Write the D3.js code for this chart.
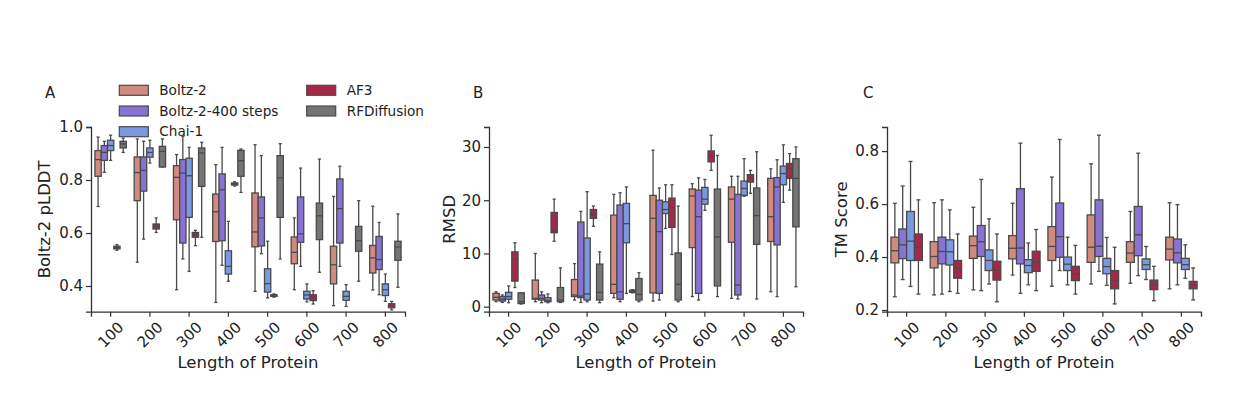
<!DOCTYPE html>
<html>
<head>
<meta charset="utf-8">
<script src="https://cdn.jsdelivr.net/npm/d3@7"></script>
<style>
	html, body { margin: 0; padding: 0; background: #fff; }
	text { font-family: "DejaVu Sans", sans-serif; fill: #222; }
</style>
</head>
<body>
<script>
'use strict';

var lengths = ['100', '200', '300', '400', '500', '600', '700', '800'];
var methods = ['Boltz-2', 'Boltz-2-400 steps', 'Chai-1', 'AF3', 'RFDiffusion'];
var methodColors = ['#d08b7e', '#8872d4', '#7b98e2', '#a62848', '#757575'];

// each entry: [whisker low, q1, median, q3, whisker high]
var plddtBoltz2 = [[0.70, 0.814, 0.877, 0.911, 0.962], [0.49, 0.722, 0.828, 0.887, 0.955], [0.386, 0.65, 0.81, 0.854, 0.896], [0.338, 0.568, 0.68, 0.747, 0.858], [0.38, 0.548, 0.604, 0.751, 0.933], [0.386, 0.484, 0.527, 0.585, 0.657], [0.326, 0.408, 0.48, 0.55, 0.738], [0.385, 0.449, 0.506, 0.553, 0.701]];
var plddtBoltz400 = [[0.829, 0.874, 0.904, 0.93, 0.946], [0.577, 0.758, 0.836, 0.887, 0.946], [0.502, 0.562, 0.826, 0.877, 0.965], [0.478, 0.571, 0.763, 0.823, 0.923], [0.522, 0.551, 0.657, 0.736, 0.892], [0.474, 0.565, 0.597, 0.736, 0.845], [0.474, 0.562, 0.692, 0.804, 0.852], [0.367, 0.462, 0.5, 0.587, 0.64]];
var plddtChai = [[0.874, 0.911, 0.93, 0.95, 0.969], [0.864, 0.886, 0.904, 0.921, 0.95], [0.455, 0.659, 0.816, 0.882, 0.923], [0.418, 0.445, 0.474, 0.533, 0.644], [0.355, 0.377, 0.409, 0.465, 0.569], [0.34, 0.351, 0.366, 0.38, 0.408], [0.323, 0.346, 0.361, 0.38, 0.405], [0.342, 0.364, 0.386, 0.408, 0.445]];
var plddtAF3 = [[0.535, 0.54, 0.545, 0.55, 0.556], [0.602, 0.615, 0.625, 0.634, 0.657], [0.552, 0.584, 0.594, 0.602, 0.61], [0.777, 0.781, 0.785, 0.789, 0.793], [0.358, 0.361, 0.364, 0.367, 0.37], [0.332, 0.345, 0.357, 0.367, 0.382], null, [0.31, 0.318, 0.326, 0.333, 0.342]];
var plddtRFD = [[0.904, 0.921, 0.936, 0.946, 0.958], [0.849, 0.849, 0.908, 0.927, 0.955], [0.584, 0.776, 0.902, 0.921, 0.942], [0.753, 0.814, 0.873, 0.912, 0.917], [0.502, 0.659, 0.808, 0.892, 0.937], [0.452, 0.575, 0.665, 0.713, 0.879], [0.418, 0.531, 0.571, 0.625, 0.722], [0.395, 0.497, 0.547, 0.569, 0.672]];

var rmsdBoltz2 = [[0.94, 1.25, 1.75, 2.5, 2.8], [0.94, 1.4, 1.56, 5.0, 10.0], [1.25, 1.9, 2.2, 5.1, 8.1], [1.7, 2.5, 4.2, 17.2, 21.1], [1.06, 2.6, 16.6, 20.9, 29.4], [1.9, 11.1, 20.8, 22.1, 23.1], [1.56, 12.1, 20.2, 22.5, 24.5], [2.8, 12.25, 16.9, 24.1, 25.9]];
var rmsdBoltz400 = [[0.8, 1.06, 1.4, 1.9, 2.2], [0.75, 1.25, 1.56, 2.2, 2.8], [0.8, 1.7, 2.0, 15.9, 17.9], [0.94, 1.4, 2.8, 19.1, 21.4], [1.25, 2.5, 14.1, 20.0, 22.3], [1.25, 2.5, 16.9, 21.9, 24.2], [1.44, 2.2, 4.06, 21.1, 24.5], [1.9, 11.6, 22.5, 24.25, 27.6]];
var rmsdChai = [[0.75, 1.4, 1.9, 2.7, 3.9], [0.75, 0.94, 1.2, 1.7, 2.4], [0.94, 1.25, 2.4, 12.9, 21.6], [2.5, 12.0, 15.6, 19.4, 22.5], [14.7, 17.5, 18.25, 19.7, 22.9], [18.1, 19.25, 20.2, 22.4, 23.9], [20.75, 20.9, 22.2, 23.6, 27.8], [19.6, 22.9, 25.0, 26.4, 30.4]];
var rmsdAF3 = [[3.6, 4.8, 8.9, 10.3, 12.0], [12.3, 13.9, 14.2, 17.7, 20.2], [15.1, 16.6, 17.3, 18.25, 18.9], [2.6, 2.7, 2.9, 3.1, 3.2], [9.8, 14.9, 18.6, 20.4, 22.9], [25.6, 27.2, 28.4, 29.25, 32.2], [21.3, 23.4, 24.1, 24.8, 25.6], [21.9, 24.1, 25.9, 26.9, 28.75]];
var rmsdRFD = [[0.5, 0.6, 0.94, 2.6, 2.6], [0.8, 0.94, 1.25, 3.6, 7.3], [0.75, 1.25, 2.7, 8.0, 10.3], [0.94, 1.25, 2.3, 5.3, 6.4], [0.94, 1.25, 4.2, 10.1, 18.9], [1.9, 3.9, 13.1, 22.1, 28.4], [1.44, 11.7, 17.1, 22.3, 29.1], [3.75, 15.0, 24.1, 27.8, 30.0]];

var tmBoltz2 = [[0.25, 0.378, 0.424, 0.475, 0.603], [0.257, 0.359, 0.402, 0.458, 0.605], [0.276, 0.395, 0.443, 0.479, 0.588], [0.332, 0.393, 0.433, 0.481, 0.603], [0.29, 0.387, 0.44, 0.515, 0.702], [0.298, 0.38, 0.437, 0.559, 0.752], [0.301, 0.38, 0.415, 0.458, 0.572], [0.28, 0.389, 0.43, 0.475, 0.605]];
var tmBoltz400 = [[0.315, 0.394, 0.446, 0.506, 0.668], [0.26, 0.374, 0.421, 0.475, 0.616], [0.273, 0.402, 0.458, 0.519, 0.693], [0.263, 0.374, 0.434, 0.658, 0.83], [0.349, 0.399, 0.477, 0.604, 0.844], [0.346, 0.402, 0.441, 0.616, 0.86], [0.33, 0.405, 0.484, 0.591, 0.792], [0.295, 0.378, 0.416, 0.468, 0.598]];
var tmChai = [[0.289, 0.387, 0.46, 0.572, 0.761], [0.27, 0.37, 0.42, 0.465, 0.578], [0.298, 0.349, 0.387, 0.427, 0.544], [0.295, 0.341, 0.368, 0.39, 0.453], [0.295, 0.349, 0.373, 0.4, 0.475], [0.293, 0.337, 0.364, 0.395, 0.474], [0.315, 0.353, 0.371, 0.393, 0.44], [0.32, 0.353, 0.371, 0.395, 0.446]];
var tmAF3 = [[0.26, 0.387, 0.437, 0.487, 0.616], [0.263, 0.32, 0.358, 0.387, 0.487], [0.231, 0.313, 0.351, 0.384, 0.487], [0.273, 0.346, 0.38, 0.422, 0.504], [0.26, 0.311, 0.337, 0.365, 0.444], [0.223, 0.28, 0.311, 0.349, 0.437], [0.235, 0.277, 0.296, 0.313, 0.365], [0.238, 0.28, 0.295, 0.308, 0.359]];

var lineColor = '#4a4a4a';
var plotTop = 127, plotBottom = 311.7, panelWidth = 314;

var svg = d3.select('body').append('svg').attr('width', 1252).attr('height', 396);

/**
 * Draws one panel of grouped box plots.
 */
function drawPanel(cfg) {
	var g = svg.append('g');
	var x = d3.scaleBand().domain(lengths).range([cfg.left, cfg.left + panelWidth]);
	var names = cfg.series.map(function(s) { return s.name; });
	var hue = d3.scaleBand().domain(names).range([-0.4 * x.bandwidth(), 0.4 * x.bandwidth()]);
	var y = d3.scaleLinear().domain(cfg.domain).range([plotBottom, plotTop]);
	var w = hue.bandwidth();

	cfg.series.forEach(function(s) {
		s.values.forEach(function(d, i) {
			if (!d) return;
			var cx = x(lengths[i]) + x.bandwidth() / 2 + hue(s.name) + w / 2;
			var box = g.append('g').attr('stroke', lineColor).attr('stroke-width', 1.3);
			box.append('line').attr('x1', cx).attr('x2', cx).attr('y1', y(d[0])).attr('y2', y(d[1]));
			box.append('line').attr('x1', cx).attr('x2', cx).attr('y1', y(d[3])).attr('y2', y(d[4]));
			box.append('line').attr('x1', cx - w / 4).attr('x2', cx + w / 4).attr('y1', y(d[0])).attr('y2', y(d[0]));
			box.append('line').attr('x1', cx - w / 4).attr('x2', cx + w / 4).attr('y1', y(d[4])).attr('y2', y(d[4]));
			box.append('rect')
				.attr('x', cx - w / 2)
				.attr('y', y(d[3]))
				.attr('width', w)
				.attr('height', Math.max(0.5, y(d[1]) - y(d[3])))
				.attr('fill', s.color);
			box.append('line').attr('x1', cx - w / 2).attr('x2', cx + w / 2).attr('y1', y(d[2])).attr('y2', y(d[2]));
		});
	});

	var yAxis = g.append('g')
		.attr('transform', 'translate(' + cfg.left + ',0)')
		.call(d3.axisLeft(y).tickValues(cfg.ticks).tickFormat(d3.format(cfg.fmt)).tickSizeOuter(0).tickSize(5).tickPadding(3));
	var xAxis = g.append('g')
		.attr('transform', 'translate(0,' + plotBottom + ')')
		.call(d3.axisBottom(x).tickSizeOuter(0).tickSize(5));

	[yAxis, xAxis].forEach(function(ax) {
		ax.select('.domain').attr('stroke', '#333').attr('stroke-width', 1.3);
		ax.selectAll('.tick line').attr('stroke', '#333').attr('stroke-width', 1.2);
		ax.selectAll('.tick text').attr('font-size', 15).attr('fill', '#222')
			.attr('font-family', '"DejaVu Sans", sans-serif');
	});

	xAxis.selectAll('.tick text')
		.attr('y', 0)
		.attr('dy', '0.35em')
		.attr('text-anchor', 'middle')
		.attr('transform', 'translate(0,23) rotate(-45)');

	g.append('text')
		.attr('x', (cfg.left * 2 + panelWidth) / 2)
		.attr('y', 367.5)
		.attr('text-anchor', 'middle')
		.attr('font-size', 16.5)
		.text('Length of Protein');

	g.append('text')
		.attr('transform', 'translate(' + (cfg.left - cfg.labelGap) + ',' + (plotTop + plotBottom) / 2 + ') rotate(-90)')
		.attr('text-anchor', 'middle')
		.attr('font-size', 16.5)
		.text(cfg.yLabel);

	g.append('text')
		.attr('x', cfg.letterX)
		.attr('y', 98)
		.attr('font-size', 15)
		.text(cfg.letter);
}

drawPanel({
	left: 91, letter: 'A', letterX: 45, yLabel: 'Boltz-2 pLDDT', labelGap: 41,
	domain: [0.303, 1.0], ticks: [0.4, 0.6, 0.8, 1.0], fmt: '.1f',
	series: [
		{ name: methods[0], color: methodColors[0], values: plddtBoltz2 },
		{ name: methods[1], color: methodColors[1], values: plddtBoltz400 },
		{ name: methods[2], color: methodColors[2], values: plddtChai },
		{ name: methods[3], color: methodColors[3], values: plddtAF3 },
		{ name: methods[4], color: methodColors[4], values: plddtRFD }
	]
});

drawPanel({
	left: 489, letter: 'B', letterX: 473, yLabel: 'RMSD', labelGap: 34,
	domain: [-0.94, 33.75], ticks: [0, 10, 20, 30], fmt: 'd',
	series: [
		{ name: methods[0], color: methodColors[0], values: rmsdBoltz2 },
		{ name: methods[1], color: methodColors[1], values: rmsdBoltz400 },
		{ name: methods[2], color: methodColors[2], values: rmsdChai },
		{ name: methods[3], color: methodColors[3], values: rmsdAF3 },
		{ name: methods[4], color: methodColors[4], values: rmsdRFD }
	]
});

drawPanel({
	left: 887, letter: 'C', letterX: 863, yLabel: 'TM Score', labelGap: 40,
	domain: [0.1936, 0.891], ticks: [0.2, 0.4, 0.6, 0.8], fmt: '.1f',
	series: [
		{ name: methods[0], color: methodColors[0], values: tmBoltz2 },
		{ name: methods[1], color: methodColors[1], values: tmBoltz400 },
		{ name: methods[2], color: methodColors[2], values: tmChai },
		{ name: methods[3], color: methodColors[3], values: tmAF3 }
	]
});

// legend for panel A, two columns
var legend = svg.append('g');
methods.forEach(function(name, i) {
	var col = i < 3 ? 0 : 1;
	var row = i < 3 ? i : i - 3;
	var lx = col === 0 ? 119.3 : 306.7;
	var ly = 90.3 + row * 20.7;
	legend.append('rect')
		.attr('x', lx).attr('y', ly - 5)
		.attr('width', 29).attr('height', 10)
		.attr('fill', methodColors[i])
		.attr('stroke', lineColor).attr('stroke-width', 1.2);
	legend.append('text')
		.attr('x', lx + 40).attr('y', ly)
		.attr('dy', '0.35em')
		.attr('font-size', 13.6)
		.text(name);
});
</script>
</body>
</html>
